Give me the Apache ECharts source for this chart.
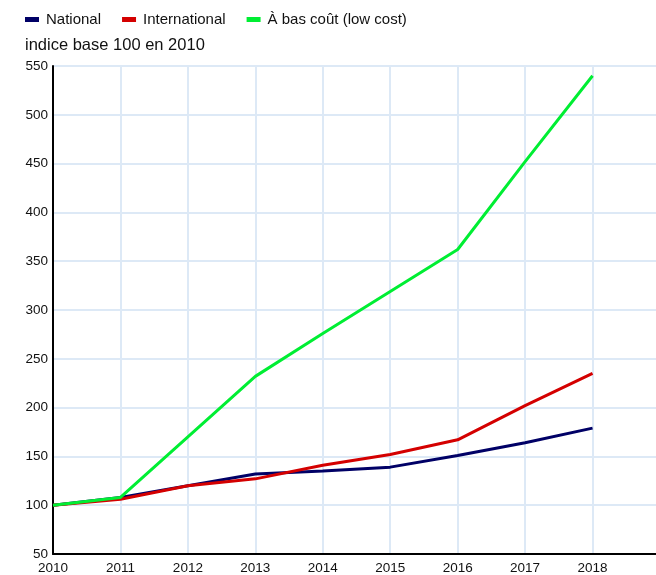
<!DOCTYPE html>
<html><head><meta charset="utf-8">
<script src="https://cdn.jsdelivr.net/npm/echarts@6/dist/echarts.min.js"></script>
<style>html,body{margin:0;padding:0;background:#fff}#c{width:656px;height:575px}</style>
</head><body><div id="c"></div>
<script>
const years = [2010, 2011, 2012, 2013, 2014, 2015, 2016, 2017, 2018];
const national = [100, 108, 120, 132, 135, 139, 151, 164, 179];
const international = [100, 106, 120, 127, 141, 152, 167, 202, 235];
const lowCost = [100, 108, 170, 232, 276, 319, 362, 452, 540];
const seriesNames = ['National', 'International', 'À bas coût (low cost)'];
const colors = ['#000066', '#d40000', '#00ee33'];
const yTitle = 'indice base 100 en 2010';

const chart = echarts.init(document.getElementById('c'));
const font = 'Liberation Sans, Arial, Helvetica, sans-serif';
const mk = (name, vals, i) => ({
  name, type: 'line', symbol: 'none', smooth: false,
  data: years.map((y, k) => [y, vals[k]]),
  lineStyle: { color: colors[i], width: 3 }, itemStyle: { color: colors[i] }
});
chart.setOption({
  animation: false,
  textStyle: { fontFamily: font },
  legend: {
    left: 20, top: 7, itemWidth: 14, itemHeight: 5, itemGap: 21,
    icon: 'rect',
    textStyle: { fontSize: 15, color: '#111', fontFamily: font, padding: [0, 0, 0, 2] },
    data: seriesNames
  },
  title: { text: yTitle, left: 20, top: 32, textStyle: { fontSize: 16.5, fontWeight: 'normal', color: '#111', fontFamily: font } },
  grid: { left: 53, right: -4, top: 66, bottom: 21, containLabel: false, outerBoundsMode: 'none' },
  xAxis: {
    type: 'value', min: 2010, max: 2019, interval: 1,
    axisLine: { show: true, onZero: false, lineStyle: { color: '#000', width: 2 } },
    axisTick: { show: false },
    axisLabel: { color: '#111', fontSize: 13.5, margin: 7, formatter: v => v <= 2018 ? String(v) : '' },
    splitLine: { show: true, lineStyle: { color: '#dde9f6', width: 2 } }
  },
  yAxis: {
    type: 'value', min: 50, max: 550, interval: 50,
    axisLine: { show: true, onZero: false, lineStyle: { color: '#000', width: 2 } },
    axisTick: { show: false },
    axisLabel: { color: '#111', fontSize: 13.5, margin: 5 },
    splitLine: { show: true, lineStyle: { color: '#dde9f6', width: 2 } }
  },
  series: [mk(seriesNames[0], national, 0), mk(seriesNames[1], international, 1), mk(seriesNames[2], lowCost, 2)]
});
</script></body></html>
